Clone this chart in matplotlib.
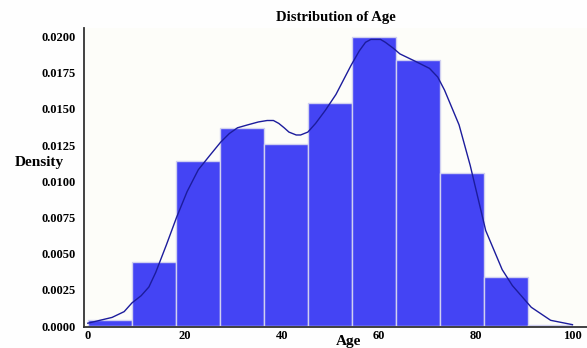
import matplotlib.pyplot as plt
import numpy as np

# histogram bins (ages 0-100, 11 equal bins) and density per bin
bin_edges = np.linspace(0, 100, 12)
density = [0.0004, 0.0044, 0.0114, 0.0137, 0.0126, 0.0154,
           0.0200, 0.0184, 0.0106, 0.0034, 0.0001]

# kernel density estimate sampled along the age axis
kde_age = [0, 5, 7.5, 9.1, 11.0, 12.6, 14.0, 16.2, 18.3, 20.5, 22.8, 25.2,
           27.4, 29.2, 30.9, 33.0, 35.2, 37.0, 38.3, 39.4, 40.5, 41.5, 43.0,
           43.9, 45.4, 47.0, 49.0, 51.2, 54.3, 56.0, 57.3, 58.4, 59.3, 60.4,
           61.4, 63.0, 64.4, 67.5, 70.5, 72.2, 73.6, 76.6, 78.9, 82.1, 85.5,
           87.6, 91.5, 95.5, 100]
kde_density = [0.0002, 0.0006, 0.0010, 0.0016, 0.0021, 0.0027, 0.0037,
               0.0056, 0.0075, 0.0093, 0.0108, 0.0118, 0.0127, 0.0133,
               0.0137, 0.0139, 0.0141, 0.0142, 0.0142, 0.0140, 0.0137,
               0.0134, 0.0132, 0.0132, 0.0134, 0.0140, 0.0149, 0.0160,
               0.0180, 0.0190, 0.0196, 0.0198, 0.0198, 0.0198, 0.0196,
               0.0192, 0.0188, 0.0183, 0.0178, 0.0172, 0.0163, 0.0139,
               0.0111, 0.0066, 0.0039, 0.0028, 0.0013, 0.0004, 0.0001]

x_ticks = [0, 20, 40, 60, 80, 100]
y_ticks = [0.0, 0.0025, 0.005, 0.0075, 0.01, 0.0125, 0.015, 0.0175, 0.02]

plt.rcParams["font.family"] = "Liberation Serif"
plt.rcParams["font.weight"] = "bold"

fig = plt.figure(figsize=(5.87, 3.48), dpi=100)
fig.patch.set_facecolor("#fefefe")
ax = fig.add_axes([0.143, 0.060, 0.857, 0.860])
ax.set_facecolor("#fdfdf9")

widths = np.diff(bin_edges)
ax.bar(bin_edges[:-1], density, width=widths, align="edge",
       color="#4444f4", edgecolor="#d0d0f0", linewidth=1.0)
ax.plot(kde_age, kde_density, color="#1c1c9c", linewidth=1.0)

ax.set_xlim(-0.8, 103.0)
ax.set_ylim(-0.00007, 0.0206)
ax.set_xticks(x_ticks)
ax.set_yticks(y_ticks)
ax.set_yticklabels([f"{v:.4f}" for v in y_ticks])
ax.tick_params(axis="both", length=0, labelsize=9, pad=6)
ax.tick_params(axis="x", pad=2)

for side in ["top", "right"]:
    ax.spines[side].set_visible(False)
ax.spines["left"].set_color("#333333")
ax.spines["bottom"].set_color("#333333")
ax.spines["left"].set_linewidth(1.3)
ax.spines["bottom"].set_linewidth(1.3)

ax.set_title("Distribution of Age", fontsize=10.5, fontweight="bold", pad=5)
ax.set_xlabel("Age", fontsize=11, fontweight="bold")
ax.xaxis.set_label_coords(0.525, -0.027)
ax.set_ylabel("Density", fontsize=11, fontweight="bold", rotation=0)
ax.yaxis.set_label_coords(-0.088, 0.53)

fig.savefig("out.png", dpi=100, facecolor=fig.get_facecolor())
